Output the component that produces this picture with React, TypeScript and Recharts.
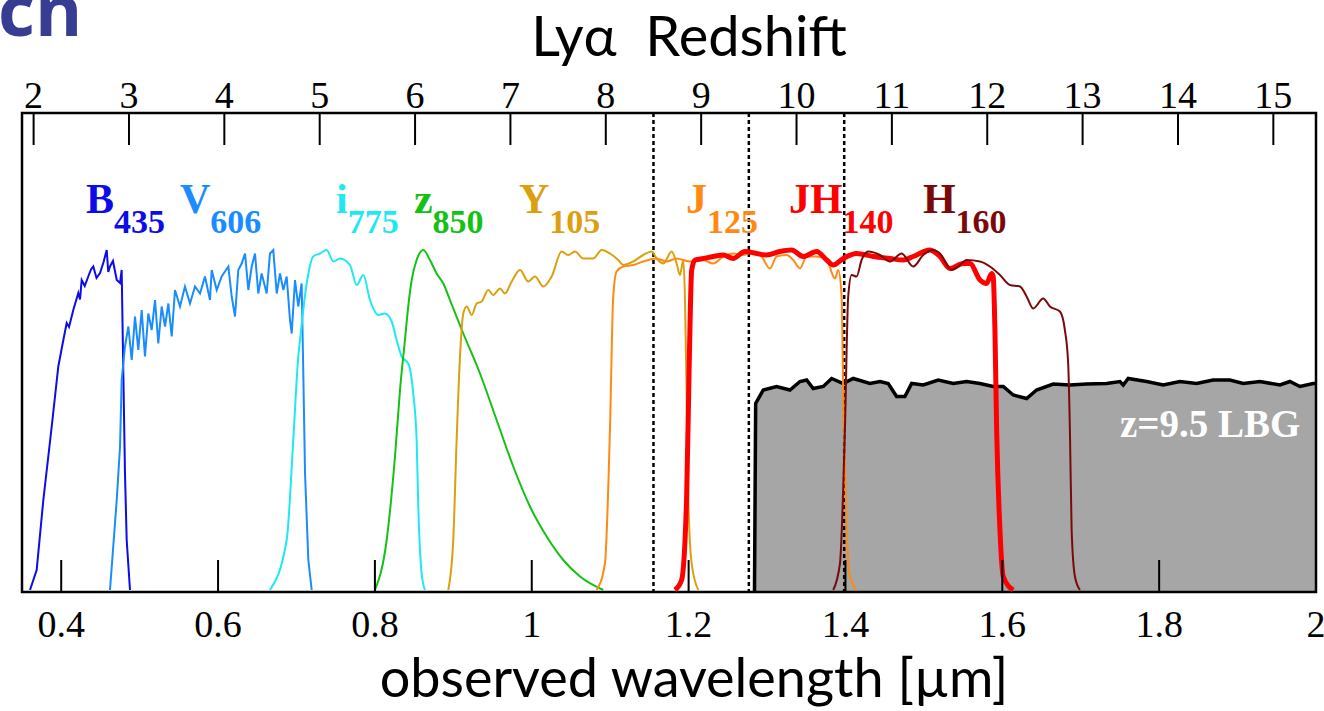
import {
  ComposedChart, Line, Area, XAxis, YAxis, ReferenceLine, ReferenceDot, ReferenceArea,
} from "recharts";

const LYA = 0.1216; // Lyα rest wavelength [µm]

const WAVE_TICKS = [0.4, 0.6, 0.8, 1.0, 1.2, 1.4, 1.6, 1.8, 2.0];
const Z_TICKS = [2, 3, 4, 5, 6, 7, 8, 9, 10, 11, 12, 13, 14, 15];
const Z_MARKERS = [8.5, 9.5, 10.5];

// throughput curves, [wavelength µm, relative throughput]
const B435 = [
  [0.3602, 0.004], [0.3687, 0.044], [0.3772, 0.184], [0.3879, 0.331], [0.3963, 0.451],
  [0.4027, 0.504], [0.4070, 0.538], [0.4100, 0.530], [0.4154, 0.564], [0.4218, 0.598],
  [0.4240, 0.585], [0.4261, 0.624], [0.4300, 0.612], [0.4345, 0.631], [0.4380, 0.645],
  [0.4409, 0.651], [0.4450, 0.628], [0.4495, 0.638], [0.4540, 0.660], [0.4580, 0.684],
  [0.4600, 0.640], [0.4622, 0.651], [0.4660, 0.662], [0.4708, 0.624], [0.4750, 0.618],
  [0.4771, 0.644], [0.4792, 0.438], [0.4813, 0.238], [0.4835, 0.104], [0.4877, 0.004],
];

const V606 = [
  [0.4622, 0.004], [0.4708, 0.184], [0.4750, 0.291], [0.4771, 0.424], [0.4813, 0.491],
  [0.4856, 0.531], [0.4899, 0.464], [0.4941, 0.551], [0.4983, 0.484], [0.5026, 0.564],
  [0.5068, 0.471], [0.5111, 0.557], [0.5154, 0.524], [0.5196, 0.584], [0.5238, 0.497],
  [0.5281, 0.571], [0.5324, 0.531], [0.5366, 0.577], [0.5409, 0.511], [0.5451, 0.604],
  [0.5515, 0.571], [0.5578, 0.611], [0.5642, 0.577], [0.5706, 0.611], [0.5770, 0.597],
  [0.5833, 0.631], [0.5897, 0.584], [0.5919, 0.644], [0.5983, 0.604], [0.6046, 0.631],
  [0.6131, 0.651], [0.6174, 0.591], [0.6216, 0.551], [0.6258, 0.644], [0.6301, 0.657],
  [0.6344, 0.677], [0.6386, 0.604], [0.6429, 0.651], [0.6471, 0.677], [0.6513, 0.597],
  [0.6556, 0.637], [0.6620, 0.597], [0.6662, 0.677], [0.6704, 0.684], [0.6748, 0.597],
  [0.6790, 0.637], [0.6832, 0.604], [0.6875, 0.631], [0.6917, 0.544], [0.6939, 0.517],
  [0.6981, 0.624], [0.7023, 0.571], [0.7066, 0.617], [0.7087, 0.437], [0.7109, 0.237],
  [0.7151, 0.064], [0.7194, 0.004],
];

const I775 = [
  [0.6662, 0.004], [0.6875, 0.104], [0.6959, 0.304], [0.7023, 0.471], [0.7045, 0.504],
  [0.7130, 0.617], [0.7214, 0.671], [0.7300, 0.677], [0.7385, 0.684], [0.7469, 0.661],
  [0.7555, 0.667], [0.7682, 0.654], [0.7767, 0.614], [0.7852, 0.634], [0.7937, 0.584],
  [0.8043, 0.554], [0.8128, 0.557], [0.8214, 0.541], [0.8277, 0.504], [0.8341, 0.471],
  [0.8425, 0.457], [0.8489, 0.397], [0.8532, 0.304], [0.8553, 0.171], [0.8596, 0.037],
  [0.8638, 0.004],
];

const Z850 = [
  [0.8001, 0.004], [0.8150, 0.104], [0.8256, 0.271], [0.8320, 0.404], [0.8383, 0.504],
  [0.8425, 0.571], [0.8469, 0.624], [0.8532, 0.664], [0.8617, 0.684], [0.8702, 0.664],
  [0.8787, 0.637], [0.8872, 0.617], [0.8957, 0.584], [0.9127, 0.517], [0.9340, 0.437],
  [0.9552, 0.344], [0.9764, 0.251], [0.9977, 0.171], [1.0190, 0.111], [1.0402, 0.064],
  [1.0615, 0.031], [1.0912, 0.004],
];

const Y105 = [
  [0.8935, 0.004], [0.8999, 0.104], [0.9042, 0.304], [0.9085, 0.471], [0.9127, 0.557],
  [0.9170, 0.571], [0.9234, 0.554], [0.9297, 0.577], [0.9361, 0.581], [0.9445, 0.604],
  [0.9509, 0.594], [0.9595, 0.607], [0.9658, 0.597], [0.9744, 0.621], [0.9850, 0.644],
  [0.9955, 0.621], [1.0041, 0.631], [1.0147, 0.611], [1.0254, 0.631], [1.0381, 0.681],
  [1.0465, 0.674], [1.0551, 0.681], [1.0657, 0.667], [1.0784, 0.667], [1.0891, 0.684],
  [1.0997, 0.677], [1.1103, 0.664], [1.1167, 0.654], [1.1294, 0.661], [1.1422, 0.674],
  [1.1529, 0.681], [1.1592, 0.667], [1.1677, 0.657], [1.1784, 0.681], [1.1847, 0.657],
  [1.1890, 0.634], [1.1932, 0.664], [1.1953, 0.591], [1.1975, 0.391], [1.1995, 0.191],
  [1.2039, 0.057], [1.2123, 0.004],
];

const J125 = [
  [1.0827, 0.004], [1.0933, 0.057], [1.0997, 0.324], [1.1039, 0.591], [1.1082, 0.641],
  [1.1167, 0.651], [1.1294, 0.654], [1.1422, 0.661], [1.1592, 0.667], [1.1720, 0.661],
  [1.1847, 0.667], [1.2017, 0.661], [1.2187, 0.664], [1.2314, 0.657], [1.2442, 0.671],
  [1.2569, 0.677], [1.2697, 0.674], [1.2824, 0.681], [1.2931, 0.671], [1.3037, 0.647],
  [1.3122, 0.671], [1.3250, 0.674], [1.3334, 0.664], [1.3420, 0.647], [1.3505, 0.671],
  [1.3632, 0.671], [1.3760, 0.664], [1.3866, 0.627], [1.3908, 0.644], [1.3951, 0.591],
  [1.3972, 0.391], [1.4015, 0.124], [1.4057, 0.031], [1.4142, 0.004],
];

const JH140 = [
  [1.1826, 0.004], [1.1911, 0.024], [1.1975, 0.191], [1.2008, 0.457], [1.2039, 0.644],
  [1.2081, 0.664], [1.2187, 0.667], [1.2314, 0.671], [1.2442, 0.674], [1.2569, 0.667],
  [1.2718, 0.681], [1.2867, 0.677], [1.2995, 0.674], [1.3165, 0.681], [1.3314, 0.684],
  [1.3462, 0.671], [1.3632, 0.681], [1.3760, 0.664], [1.3844, 0.654], [1.3972, 0.667],
  [1.4142, 0.677], [1.4354, 0.671], [1.4567, 0.667], [1.4737, 0.664], [1.4864, 0.671],
  [1.5077, 0.684], [1.5205, 0.671], [1.5332, 0.647], [1.5502, 0.657], [1.5587, 0.657],
  [1.5715, 0.624], [1.5800, 0.617], [1.5864, 0.637], [1.5884, 0.631], [1.5906, 0.524],
  [1.5928, 0.324], [1.5970, 0.124], [1.6012, 0.031], [1.6139, 0.004],
];

const H160 = [
  [1.3844, 0.004], [1.3930, 0.057], [1.3993, 0.324], [1.4035, 0.591], [1.4079, 0.634],
  [1.4142, 0.631], [1.4206, 0.664], [1.4290, 0.681], [1.4440, 0.674], [1.4567, 0.661],
  [1.4716, 0.677], [1.4864, 0.651], [1.4992, 0.674], [1.5119, 0.684], [1.5205, 0.677],
  [1.5354, 0.644], [1.5438, 0.651], [1.5545, 0.664], [1.5715, 0.661], [1.5842, 0.651],
  [1.5970, 0.634], [1.6097, 0.614], [1.6225, 0.611], [1.6310, 0.591], [1.6394, 0.567],
  [1.6522, 0.587], [1.6607, 0.571], [1.6735, 0.561], [1.6798, 0.524], [1.6840, 0.457],
  [1.6862, 0.324], [1.6884, 0.124], [1.6926, 0.031], [1.6990, 0.004],
];

// z=9.5 Lyman-break galaxy spectrum (arbitrary flux)
const LBG = [
  [1.2840, 0], [1.2855, 0.377], [1.2952, 0.404], [1.3122, 0.411], [1.3292, 0.404],
  [1.3420, 0.421], [1.3505, 0.424], [1.3589, 0.407], [1.3717, 0.411], [1.3824, 0.427],
  [1.3972, 0.417], [1.4099, 0.427], [1.4312, 0.417], [1.4440, 0.421], [1.4545, 0.417],
  [1.4652, 0.391], [1.4758, 0.391], [1.4844, 0.417], [1.4992, 0.414], [1.5183, 0.424],
  [1.5374, 0.417], [1.5545, 0.421], [1.5715, 0.417], [1.5884, 0.411], [1.6012, 0.411],
  [1.6139, 0.394], [1.6310, 0.387], [1.6437, 0.404], [1.6649, 0.416], [1.6862, 0.414],
  [1.7075, 0.416], [1.7330, 0.417], [1.7500, 0.421], [1.7542, 0.414], [1.7605, 0.427],
  [1.7840, 0.421], [1.8052, 0.414], [1.8265, 0.421], [1.8477, 0.417], [1.8689, 0.424],
  [1.8902, 0.424], [1.9072, 0.417], [1.9285, 0.421], [1.9540, 0.414], [1.9667, 0.421],
  [1.9795, 0.411], [1.9964, 0.417], [2.0, 0.417],
];

const FILTERS = [
  { name: "B435", data: B435, color: "#0c0ce8", width: 2, curve: "linear" },
  { name: "V606", data: V606, color: "#1a8cff", width: 2, curve: "linear" },
  { name: "i775", data: I775, color: "#1ee8f2", width: 2, curve: "monotone" },
  { name: "z850", data: Z850, color: "#14c214", width: 2, curve: "monotone" },
  { name: "Y105", data: Y105, color: "#dc9f0f", width: 2, curve: "monotone" },
  { name: "J125", data: J125, color: "#ff8a13", width: 2, curve: "monotone" },
  { name: "JH140", data: JH140, color: "#ff0000", width: 5, curve: "monotone" },
  { name: "H160", data: H160, color: "#7a0a0a", width: 2, curve: "monotone" },
];

const LABELS = [
  { band: "B", sub: "435", w: 0.4316, color: "#0c0ce8" },
  { band: "V", sub: "606", w: 0.5515, color: "#1a8cff" },
  { band: "i", sub: "775", w: 0.7504, color: "#1ee8f2" },
  { band: "z", sub: "850", w: 0.8498, color: "#14c214" },
  { band: "Y", sub: "105", w: 0.9837, color: "#dc9f0f" },
  { band: "J", sub: "125", w: 1.1966, color: "#ff8a13" },
  { band: "JH", sub: "140", w: 1.3279, color: "#ff0000" },
  { band: "H", sub: "160", w: 1.4988, color: "#7a0a0a" },
];
const LABEL_T = 0.758;

const X_DOMAIN = [0.35, 2.0];
const Y_DOMAIN = [0, 0.958];

const SERIF = "'Liberation Serif', 'Times New Roman', serif";
const SANS = "Lato, 'Open Sans', sans-serif";

const pts = (arr: number[][]) => arr.map(([w, t]) => ({ w, t }));

// eslint-disable-next-line @typescript-eslint/no-explicit-any
const BottomTick = ({ x, y, payload }: any) => (
  <g>
    <line x1={x} x2={x} y1={y} y2={y - 32} stroke="#000" strokeWidth={2} />
    <text x={x} y={y + 45} textAnchor="middle" fontFamily={SERIF} fontSize={38} fill="#000">
      {String(+payload.value.toFixed(1))}
    </text>
  </g>
);

// eslint-disable-next-line @typescript-eslint/no-explicit-any
const TopTick = ({ x, y, payload }: any) => (
  <g>
    <line x1={x} x2={x} y1={y} y2={y + 32} stroke="#000" strokeWidth={2} />
    <text x={x} y={y - 5} textAnchor="middle" fontFamily={SERIF} fontSize={38} fill="#000">
      {Math.round(payload.value / LYA - 1)}
    </text>
  </g>
);

// eslint-disable-next-line @typescript-eslint/no-explicit-any
const axisTitle = (text: string, dy: number, size: number, dx: number) => (props: any) => {
  const vb = props.viewBox ?? {};
  return (
    <text
      x={vb.x + vb.width / 2 + dx}
      y={vb.y + dy}
      textAnchor="middle"
      fontFamily={SANS}
      fontSize={size}
      fill="#000"
      style={{ whiteSpace: "pre" }}
    >
      {text}
    </text>
  );
};

export default function App() {
  return (
    <div style={{ position: "absolute", left: 0, top: 0, width: 1324, height: 711, background: "#fff", overflow: "hidden" }}>
      <div
        style={{
          position: "absolute", left: -2, top: -28, fontFamily: "'Open Sans', sans-serif",
          fontWeight: 700, fontSize: 72, color: "#363d92", lineHeight: "72px",
        }}
      >
        cn
      </div>
      <ComposedChart
        width={1324}
        height={711}
        margin={{ top: 112, right: 8, bottom: 118, left: 22 }}
        style={{ position: "absolute", left: 0, top: 0 }}
      >
        <XAxis
          xAxisId="bottom"
          dataKey="w"
          type="number"
          domain={X_DOMAIN}
          allowDataOverflow
          ticks={WAVE_TICKS}
          interval={0}
          height={1}
          tickSize={0}
          tickMargin={0}
          axisLine={false}
          tick={<BottomTick />}
          label={{ content: axisTitle("observed wavelength [µm]", 105, 54, 25) }}
        />
        <XAxis
          xAxisId="top"
          orientation="top"
          dataKey="w"
          type="number"
          domain={X_DOMAIN}
          allowDataOverflow
          ticks={Z_TICKS.map((z) => LYA * (1 + z))}
          interval={0}
          height={1}
          tickSize={0}
          tickMargin={0}
          axisLine={false}
          tick={<TopTick />}
          label={{ content: axisTitle("Lyα\u00a0\u00a0Redshift", -56, 56, 20) }}
        />
        <YAxis hide type="number" domain={Y_DOMAIN} allowDataOverflow />

        <Area
          xAxisId="bottom"
          data={pts(LBG)}
          dataKey="t"
          type="linear"
          stroke="#000"
          strokeWidth={3.5}
          fill="#a6a6a6"
          fillOpacity={1}
          isAnimationActive={false}
        />

        {Z_MARKERS.map((z) => (
          <ReferenceLine
            key={z}
            xAxisId="top"
            x={LYA * (1 + z)}
            stroke="#000"
            strokeWidth={2.5}
            strokeDasharray="4 3"
          />
        ))}

        {FILTERS.map((f) => (
          <Line
            key={f.name}
            xAxisId="bottom"
            data={pts(f.data)}
            dataKey="t"
            type={f.curve as "linear" | "monotone"}
            stroke={f.color}
            strokeWidth={f.width}
            dot={false}
            isAnimationActive={false}
          />
        ))}

        {LABELS.map((l) => (
          <ReferenceDot
            key={l.band}
            xAxisId="bottom"
            x={l.w}
            y={LABEL_T}
            r={1}
            // eslint-disable-next-line @typescript-eslint/no-explicit-any
            shape={(p: any) => (
              <text x={p.cx} y={p.cy} fontFamily={SERIF} fontWeight={700} fontSize={42} fill={l.color}>
                {l.band}
                <tspan fontSize={34} dy={20}>{l.sub}</tspan>
              </text>
            )}
          />
        ))}

        <ReferenceDot
          xAxisId="bottom"
          x={1.75}
          y={0.31}
          r={1}
          // eslint-disable-next-line @typescript-eslint/no-explicit-any
          shape={(p: any) => (
            <text x={p.cx} y={p.cy} fontFamily={SERIF} fontWeight={700} fontSize={39} fill="#fff">
              z=9.5 LBG
            </text>
          )}
        />

        <ReferenceArea
          xAxisId="bottom"
          x1={X_DOMAIN[0]}
          x2={X_DOMAIN[1]}
          y1={Y_DOMAIN[0]}
          y2={Y_DOMAIN[1]}
          fill="none"
          stroke="#000"
          strokeWidth={2.5}
        />
      </ComposedChart>
    </div>
  );
}
